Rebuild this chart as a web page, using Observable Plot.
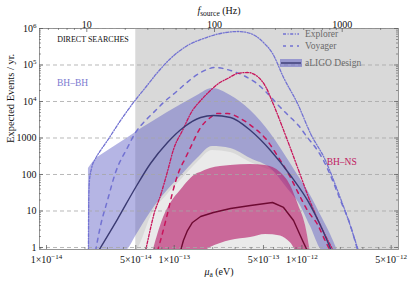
<!DOCTYPE html>
<html><head><meta charset="utf-8">
<script src="https://cdn.jsdelivr.net/npm/d3@7"></script>
<script src="https://cdn.jsdelivr.net/npm/@observablehq/plot@0.6"></script>
<style>
html,body{margin:0;padding:0;background:#fff;}
#chart{width:411px;height:281px;overflow:hidden;}
</style></head><body><div id="chart"></div>
<script>
// ---- data: axion mass mu (eV) vs expected events per year ----
// BH-BH, aLIGO design uncertainty band
const bbBandMu = [2.13e-14, 2.51e-14, 2.65e-14, 3.17e-14, 3.80e-14, 4.31e-14, 4.98e-14, 6.52e-14, 8.86e-14, 1.12e-13, 1.52e-13, 1.99e-13, 2.76e-13, 3.96e-13, 5.68e-13, 8.14e-13, 9.41e-13, 1.168e-12, 1.45e-12, 1.675e-12, 1.935e-12];
const bbBandHi = [146, 292, 332, 502, 753, 1006, 1420, 2560, 5000, 7970, 14600, 22700, 14600, 5670, 1330, 200, 89, 26.6, 6.2, 2.27, 0.7];
const bbBandLo = [0.7, 0.7, 0.7, 0.7, 0.73, 0.88, 2.0, 9.1, 36.4, 87.6, 274, 585, 516, 274, 146, 32.5, 17.1, 3.76, 0.8, 0.7, 0.7];
// BH-BH aLIGO central line
const bbLigoMu = [2.55e-14, 3.60e-14, 4.98e-14, 6.52e-14, 8.86e-14, 1.18e-13, 1.61e-13, 2.03e-13, 2.76e-13, 3.96e-13, 5.68e-13, 8.14e-13, 1.168e-12, 1.398e-12, 1.706e-12];
const bbLigoN  = [0.8, 6.0, 44, 200, 753, 1940, 3650, 4130, 3650, 1600, 455, 94, 14.1, 4.0, 0.8];
// BH-BH Voyager
const bbVoyMu = [2.42e-14, 2.65e-14, 3.00e-14, 3.47e-14, 4.31e-14, 4.98e-14, 5.96e-14, 7.14e-14, 8.25e-14, 1.024e-13, 1.23e-13, 1.61e-13, 2.11e-13, 2.76e-13, 3.62e-13, 4.33e-13, 5.38e-13, 6.56e-13, 7.85e-13, 9.41e-13, 1.106e-12, 1.278e-12, 1.476e-12, 1.675e-12, 2.006e-12, 2.40e-12, 2.74e-12];
const bbVoyN  = [0.8, 4.0, 19.4, 113, 549, 1420, 3020, 5670, 9400, 17700, 31100, 62300, 85500, 70700, 48400, 33200, 16600, 7770, 4130, 2200, 1030, 549, 242, 94, 19.4, 4.0, 0.8];
// BH-BH Explorer
const bbExpMu = [2.13e-14, 2.14e-14, 2.17e-14, 2.25e-14, 2.42e-14, 2.65e-14, 3.00e-14, 3.80e-14, 4.80e-14, 5.96e-14, 7.40e-14, 9.36e-14, 1.27e-13, 1.70e-13, 2.30e-13, 3.19e-13, 3.96e-13, 5.00e-13, 5.89e-13, 7.18e-13, 9.24e-13, 1.168e-12, 1.53e-12, 1.90e-12, 2.276e-12, 2.775e-12];
const bbExpN  = [0.8, 19.4, 68.5, 146, 274, 455, 855, 3020, 9400, 24200, 62300, 151000, 342000, 532000, 730000, 827000, 730000, 413000, 207000, 45500, 8800, 1330, 242, 36.4, 6.6, 0.8];
// BH-NS aLIGO band
const bnBandMu = [6.76e-14, 7.40e-14, 8.25e-14, 9.36e-14, 1.12e-13, 1.52e-13, 1.61e-13, 1.92e-13, 2.76e-13, 3.96e-13, 5.19e-13, 6.80e-13, 8.14e-13, 9.41e-13, 1.067e-12, 1.168e-12];
const bnBandHi = [0.7, 2.13, 6.6, 16.0, 36.4, 106, 114, 145, 176, 188, 176, 113, 50, 14.1, 4.0, 0.7];
const bnBandLo = [0.7, 0.7, 0.7, 0.7, 0.7, 0.7, 0.7, 1.0, 1.56, 1.88, 2.27, 2.07, 1.34, 0.7, 0.7, 0.7];
// BH-NS aLIGO central line
const bnLigoMu = [1.12e-13, 1.18e-13, 1.27e-13, 1.39e-13, 1.61e-13, 2.03e-13, 2.76e-13, 3.96e-13, 5.89e-13, 7.18e-13, 8.60e-13, 1.011e-12, 1.106e-12];
const bnLigoN  = [0.8, 1.56, 2.92, 4.84, 7.07, 9.1, 11.7, 14.1, 17.1, 12.5, 5.5, 1.56, 0.8];
// BH-NS Voyager
const bnVoyMu = [7.40e-14, 7.81e-14, 8.86e-14, 9.70e-14, 1.081e-13, 1.23e-13, 1.34e-13, 1.61e-13, 1.92e-13, 2.18e-13, 2.62e-13, 3.30e-13, 4.18e-13, 5.19e-13, 6.56e-13, 8.14e-13, 9.41e-13, 1.106e-12, 1.325e-12, 1.558e-12, 1.675e-12];
const bnVoyN  = [0.8, 1.56, 8.5, 32.1, 113, 292, 549, 1940, 3650, 4690, 4690, 3420, 1940, 969, 292, 82.7, 30.2, 10.3, 4.27, 1.29, 0.8];
// BH-NS Explorer
const bnExpMu = [5.96e-14, 6.52e-14, 6.89e-14, 7.81e-14, 8.86e-14, 9.87e-14, 1.16e-13, 1.39e-13, 1.61e-13, 1.92e-13, 2.22e-13, 2.62e-13, 3.13e-13, 3.75e-13, 4.49e-13, 5.19e-13, 5.99e-13, 7.71e-13, 9.75e-13, 1.168e-12, 1.398e-12, 1.768e-12];
const bnExpN  = [0.8, 3.31, 7.5, 26.6, 121, 485, 1600, 5670, 10600, 20000, 31100, 42700, 58500, 62300, 48400, 25800, 8270, 855, 94, 17.1, 4.0, 0.8];
// light (unshaded) hill below the BH-BH band
const hillMu  = [4.98e-14, 5.45e-14, 6.52e-14, 8.86e-14, 1.12e-13, 1.52e-13, 1.99e-13, 2.76e-13, 3.96e-13, 5.19e-13, 6.80e-13, 8.14e-13, 9.41e-13, 1.067e-12, 1.168e-12];
const hillTop = [0.73, 1.29, 6.6, 28.3, 68.5, 214, 455, 401, 214, 146, 94, 36.4, 13.3, 3.76, 0.7];
// direct-search boundary
const directSearchEdge = [5e-14];

// ticks
const yTicks = [1, 10, 100, 1000, 1e4, 1e5, 1e6];
const yTickLabels = ["1", "10", "100", "1000", "10^4", "10^5", "10^6"];
const yMinor = [2,3,4,5,6,7,8,9,20,30,40,50,60,70,80,90,200,300,400,500,600,700,800,900,2e3,3e3,4e3,5e3,6e3,7e3,8e3,9e3,2e4,3e4,4e4,5e4,6e4,7e4,8e4,9e4,2e5,3e5,4e5,5e5,6e5,7e5,8e5,9e5];
const xTicks = [1e-14, 5e-14, 1e-13, 5e-13, 1e-12, 5e-12];
const xTickLabels = ["1×10^-14", "5×10^-14", "1×10^-13", "5×10^-13", "1×10^-12", "5×10^-12"];
const xMinor = [9e-15, 2e-14, 3e-14, 4e-14, 6e-14, 7e-14, 8e-14, 9e-14, 2e-13, 3e-13, 4e-13, 6e-13, 7e-13, 8e-13, 9e-13, 2e-12, 3e-12, 4e-12];
const fTicks = [10, 100, 1000];
const fMinor = [5,6,7,8,9,20,30,40,50,60,70,80,90,200,300,400,500,600,700,800,900,2000];
const muPerHz = 2.0678e-15; // mu = h f / 2

const annotations = [
  {text: "DIRECT SEARCHES", mu: 2.31e-14, n: 5.0e5, color: "#111", size: 8},
  {text: "BH–BH", mu: 1.60e-14, n: 3.3e4, color: "#7a7ad0", size: 9.5},
  {text: "BH–NS", mu: 2.05e-12, n: 227, color: "#c0185e", size: 9.5}
];
const legendNames = ["Explorer", "Voyager", "aLIGO Design"];

// ---- build tables ----
const zip = (mu, a, b) => mu.map((m, i) => ({mu: m, a: a[i], b: b ? b[i] : undefined}));
const bbBand = zip(bbBandMu, bbBandLo, bbBandHi);
const bnBand = zip(bnBandMu, bnBandLo, bnBandHi);
const hill = zip(hillMu, hillTop);
const xLabelRows = xTicks.map((v, i) => ({v, label: xTickLabels[i]}));
const yLabelRows = yTicks.map((v, i) => ({v, label: yTickLabels[i]}));

const W = 411, H = 281, mL = 39, mR = 13, mT = 28, mB = 32;
const pW = W - mL - mR, pH = H - mT - mB;
const xDomain = [Math.pow(10, -14.055), Math.pow(10, -11.2436)];
const yDomain = [0.881, 1e6];

const BLUE_FILL = "#6262c6", BLUE_LINE = "#7272d2", NAVY = "#3a3a72";
const MAG_FILL = "#b8246e", MAG_LINE = "#c8145a", MAROON = "#6e0a32";
const TICK = "#555";
const DASHDOT = "3,1.6,1,1.6", DASH = "4,5";

const chart = Plot.plot({
  width: W, height: H,
  marginLeft: mL, marginRight: mR, marginTop: mT, marginBottom: mB,
  style: {fontFamily: "'Liberation Serif', 'DejaVu Serif', serif", fontSize: "10px", background: "white", overflow: "visible"},
  x: {type: "log", domain: xDomain, axis: null},
  y: {type: "log", domain: yDomain, axis: null},
  marks: [
    Plot.rect(directSearchEdge, {x1: d => d, x2: () => xDomain[1], y1: () => yDomain[0], y2: () => yDomain[1], fill: "#d9d9d9"}),
    Plot.areaY(hill, {x: "mu", y1: () => 0.5, y2: "a", fill: "white", fillOpacity: 0.45, curve: "monotone-x", clip: true}),
    Plot.areaY(bbBand, {x: "mu", y1: "a", y2: "b", fill: BLUE_FILL, fillOpacity: 0.47, curve: "monotone-x", clip: true}),
    Plot.areaY(bnBand, {x: "mu", y1: "a", y2: "b", fill: MAG_FILL, fillOpacity: 0.65, curve: "monotone-x", clip: true}),
    Plot.ruleY(yTicks, {y: d => d, stroke: "#a6a6a6", strokeDasharray: "4,3", strokeWidth: 0.8}),
    Plot.line(zip(bbExpMu, bbExpN), {x: "mu", y: "a", stroke: BLUE_LINE, strokeWidth: 1.3, strokeDasharray: DASHDOT, curve: "monotone-x", clip: true}),
    Plot.line(zip(bbVoyMu, bbVoyN), {x: "mu", y: "a", stroke: BLUE_LINE, strokeWidth: 1.5, strokeDasharray: DASH, curve: "monotone-x", clip: true}),
    Plot.line(zip(bnExpMu, bnExpN), {x: "mu", y: "a", stroke: MAG_LINE, strokeWidth: 1.3, strokeDasharray: DASHDOT, curve: "monotone-x", clip: true}),
    Plot.line(zip(bnVoyMu, bnVoyN), {x: "mu", y: "a", stroke: MAG_LINE, strokeWidth: 1.5, strokeDasharray: DASH, curve: "monotone-x", clip: true}),
    Plot.line(zip(bbLigoMu, bbLigoN), {x: "mu", y: "a", stroke: NAVY, strokeWidth: 1.4, curve: "monotone-x", clip: true}),
    Plot.line(zip(bnLigoMu, bnLigoN), {x: "mu", y: "a", stroke: MAROON, strokeWidth: 1.4, curve: "linear", clip: true}),
    Plot.frame({stroke: "#8c8c8c", strokeWidth: 0.9}),
    // inward ticks on all four sides
    Plot.tickY(yTicks, {y: d => d, insetRight: pW - 4, stroke: TICK, strokeWidth: 0.7}),
    Plot.tickY(yTicks, {y: d => d, insetLeft: pW - 4, stroke: TICK, strokeWidth: 0.7}),
    Plot.tickY(yMinor, {y: d => d, insetRight: pW - 2, stroke: TICK, strokeWidth: 0.6}),
    Plot.tickY(yMinor, {y: d => d, insetLeft: pW - 2, stroke: TICK, strokeWidth: 0.6}),
    Plot.tickX(xTicks, {x: d => d, insetTop: pH - 4, stroke: TICK, strokeWidth: 0.7}),
    Plot.tickX(xMinor, {x: d => d, insetTop: pH - 2, stroke: TICK, strokeWidth: 0.6}),
    Plot.tickX(fTicks, {x: d => d * muPerHz, insetBottom: pH - 4, stroke: TICK, strokeWidth: 0.7}),
    Plot.tickX(fMinor, {x: d => d * muPerHz, insetBottom: pH - 2, stroke: TICK, strokeWidth: 0.6, clip: true}),
    // tick labels
    Plot.text(yLabelRows, {y: "v", text: "label", frameAnchor: "left", textAnchor: "end", dx: -3, fontSize: 10, fill: "#111"}),
    Plot.text(xLabelRows, {x: "v", text: "label", frameAnchor: "bottom", dy: 13, fontSize: 10, fill: "#111"}),
    Plot.text(fTicks, {x: d => d * muPerHz, text: d => String(d), frameAnchor: "top", dy: -8, fontSize: 10, fill: "#111"}),
    // axis titles
    Plot.text(["μ_a (eV)"], {text: d => d, frameAnchor: "bottom", dy: 25, fontSize: 10, fill: "#111"}),
    Plot.text(["f_source (Hz)"], {text: d => d, frameAnchor: "top", dy: -22, fontSize: 10, fill: "#111"}),
    Plot.text(["Expected Events / yr."], {text: d => d, frameAnchor: "left", rotate: -90, dx: -29, dy: 4, fontSize: 10.5, fill: "#111"}),
    // annotations
    Plot.text(annotations, {x: "mu", y: "n", text: "text", fill: "color", fontSize: "size"})
  ]
});
document.getElementById("chart").append(chart);

// ---- rich text (superscripts / subscripts) ----
const NS = "http://www.w3.org/2000/svg";
function ts(str, o = {}) {
  const t = document.createElementNS(NS, "tspan");
  t.textContent = str;
  if (o.dy) t.setAttribute("dy", o.dy);
  if (o.size) t.style.fontSize = o.size;
  if (o.italic) t.style.fontStyle = "italic";
  return t;
}
chart.querySelectorAll("text").forEach(t => {
  if (t.children.length) return;
  const s = t.textContent;
  let m;
  if ((m = s.match(/^(.+?)\^(.+)$/))) {
    t.textContent = "";
    t.append(ts(m[1]), ts(m[2].replace(/-/g, "\u2212"), {dy: "-4", size: "7px"}));
  } else if ((m = s.match(/^(.)_(\S+) (.*)$/))) {
    t.textContent = "";
    t.append(ts(m[1], {italic: true}), ts(m[2], {dy: "2.5", size: "7.5px"}), ts(" " + m[3], {dy: "-2.5"}));
  }
});

// ---- legend (top-right, inside frame) ----
const lg = d3.select(chart).append("g").attr("font-size", 9.5).attr("fill", "#6a6a6a").attr("text-anchor", "start");
const lx = W - mR - 115, ly = mT + 6, step = 12;
lg.append("line").attr("x1", lx).attr("x2", lx + 16).attr("y1", ly).attr("y2", ly)
  .attr("stroke", BLUE_LINE).attr("stroke-width", 1.3).attr("stroke-dasharray", DASHDOT);
lg.append("line").attr("x1", lx).attr("x2", lx + 16).attr("y1", ly + step).attr("y2", ly + step)
  .attr("stroke", BLUE_LINE).attr("stroke-width", 1.5).attr("stroke-dasharray", "3,4");
lg.append("rect").attr("x", lx - 3).attr("y", ly + 2 * step + 1).attr("width", 22).attr("height", 8)
  .attr("fill", BLUE_FILL).attr("fill-opacity", 0.55);
lg.append("line").attr("x1", lx - 2).attr("x2", lx + 18).attr("y1", ly + 2 * step + 5).attr("y2", ly + 2 * step + 5)
  .attr("stroke", NAVY).attr("stroke-width", 1.4);
legendNames.forEach((name, i) => {
  lg.append("text").attr("x", lx + 22).attr("y", ly + i * step + (i === 2 ? 5 : 0)).attr("dy", "0.33em").text(name);
});
</script>
</body></html>
